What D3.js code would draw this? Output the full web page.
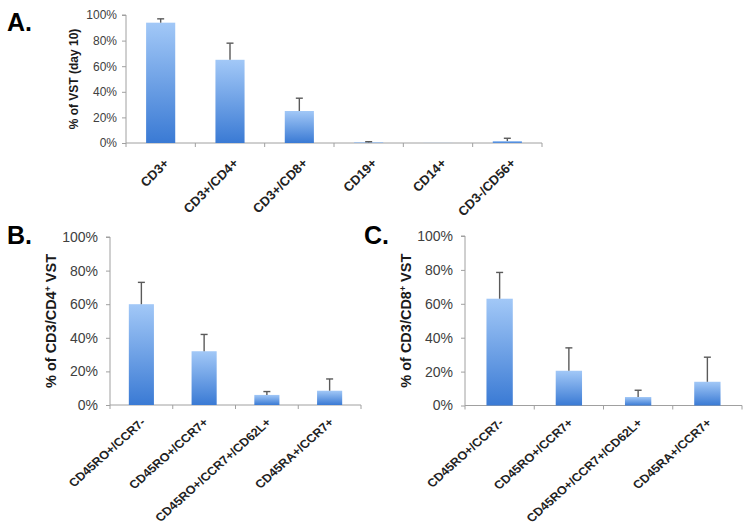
<!DOCTYPE html>
<html><head><meta charset="utf-8">
<script src="https://cdn.jsdelivr.net/npm/d3@7"></script>
<style>
html,body{margin:0;padding:0;background:#fff;}
svg{display:block;font-family:"Liberation Sans",Arial,sans-serif;}
</style></head>
<body><svg id="c" width="750" height="530"></svg>
<script>
// ---- data ----
const catsA = ["CD3+","CD3+/CD4+","CD3+/CD8+","CD19+","CD14+","CD3-/CD56+"];
const valsA = [94, 65, 25, 0.5, 0.1, 1.5];
const errA  = [3, 13, 10, 0.5, 0, 2.2];

const catsB = ["CD45RO+/CCR7-","CD45RO+/CCR7+","CD45RO+/CCR7+/CD62L+","CD45RA+/CCR7+"];
const valsB = [60, 32, 6, 8.5];
const errB  = [13, 10, 2, 7];

const catsC = ["CD45RO+/CCR7-","CD45RO+/CCR7+","CD45RO+/CCR7+/CD62L+","CD45RA+/CCR7+"];
const valsC = [63, 20.5, 5, 14];
const errC  = [15.5, 13.5, 4, 14.5];

const yTicks = [0, 20, 40, 60, 80, 100];
const yTickLabels = ["0%","20%","40%","60%","80%","100%"];

// ---- drawing ----
const svg = d3.select("#c");
const defs = svg.append("defs");
const grad = defs.append("linearGradient").attr("id","barGrad")
  .attr("x1",0).attr("y1",0).attr("x2",0).attr("y2",1);
grad.append("stop").attr("offset","0%").attr("stop-color","#a2c8f7");
grad.append("stop").attr("offset","100%").attr("stop-color","#3a7ad4");

function panel(o){
  const g = svg.append("g");
  const x = d3.scaleBand().domain(o.cats).range([o.x0, o.x1]).paddingInner(0).paddingOuter(0);
  const y = d3.scaleLinear().domain([0,100]).range([o.yb, o.yt]);
  const axisCol = "#a0a0a0";

  // y axis
  const ya = g.append("g").attr("transform",`translate(${o.x0},0)`)
    .call(d3.axisLeft(y).tickValues(yTicks).tickFormat((d,i)=>yTickLabels[i]).tickSize(4).tickPadding(o.yPad));
  ya.select(".domain").attr("stroke",axisCol).attr("d",`M-4,${y(100)}H0V${y(0)}`);
  ya.selectAll(".tick line").attr("stroke",axisCol);
  ya.selectAll(".tick text").attr("fill","#404040").style("font-family","Liberation Sans, Arial, sans-serif")
    .style("font-size",o.yFont+"px");

  // x axis line with boundary ticks
  const bounds = o.cats.map(c=>x(c)).concat([o.x1]);
  g.append("line").attr("x1",o.x0).attr("x2",o.x1).attr("y1",o.yb).attr("y2",o.yb)
    .attr("stroke",axisCol);
  g.selectAll(".bt").data(bounds).join("line")
    .attr("x1",d=>d).attr("x2",d=>d).attr("y1",o.yb).attr("y2",o.yb+4).attr("stroke",axisCol);

  const bw = x.bandwidth()*o.barFrac;
  // bars
  g.selectAll(".bar").data(o.cats).join("rect")
    .attr("x",(d)=>x(d)+x.bandwidth()/2-bw/2)
    .attr("width",bw)
    .attr("y",(d,i)=>y(o.vals[i]))
    .attr("height",(d,i)=>y(0)-y(o.vals[i]))
    .attr("fill","url(#barGrad)");
  // error bars (upper only)
  const eb = o.cats.map((c,i)=>({c, v:o.vals[i], e:o.errs[i]})).filter(d=>d.e>0);
  g.selectAll(".ev").data(eb).join("line")
    .attr("x1",d=>x(d.c)+x.bandwidth()/2).attr("x2",d=>x(d.c)+x.bandwidth()/2)
    .attr("y1",d=>y(d.v)).attr("y2",d=>y(d.v+d.e))
    .attr("stroke","#5a5a5a").attr("stroke-width",1.4);
  g.selectAll(".ec").data(eb).join("line")
    .attr("x1",d=>x(d.c)+x.bandwidth()/2-3.5).attr("x2",d=>x(d.c)+x.bandwidth()/2+3.5)
    .attr("y1",d=>y(d.v+d.e)).attr("y2",d=>y(d.v+d.e))
    .attr("stroke","#5a5a5a").attr("stroke-width",1.4);

  // x labels rotated
  g.selectAll(".xl").data(o.cats).join("text")
    .attr("transform",d=>`translate(${x(d)+x.bandwidth()/2+o.lblDx},${o.yb+o.lblDy}) scale(${o.lblSx},1) rotate(-45)`)
    .attr("text-anchor","end")
    .style("font-size",o.xFont+"px").style("font-weight","bold").attr("fill","#222")
    .text(d=>d);

  // y title
  const t = g.append("text")
    .attr("transform",`translate(${o.titleX},${(o.yb+o.yt)/2}) rotate(-90)`)
    .attr("text-anchor","middle").style("font-size",o.titleFont+"px").style("font-weight","bold")
    .attr("fill","#1a1a1a");
  o.title.forEach(p=>{
    const ts = t.append("tspan").text(p.t);
    if(p.sup){ ts.attr("baseline-shift","super").style("font-size",(o.titleFont*0.6)+"px"); }
  });

  // panel letter
  svg.append("text").attr("x",o.letterX).attr("y",o.letterY)
    .style("font-size","25px").style("font-weight","bold").attr("fill","#000").text(o.letter);
}

panel({cats:catsA, vals:valsA, errs:errA, x0:126, x1:542, yb:143, yt:15, barFrac:0.42,
  yPad:5, yFont:12, xFont:13, lblSx:1, lblDx:9, lblDy:21, titleX:78, titleFont:12,
  title:[{t:"% of VST (day 10)"}], letter:"A.", letterX:7, letterY:31});
panel({cats:catsB, vals:valsB, errs:errB, x0:110, x1:361, yb:405, yt:237, barFrac:0.4,
  yPad:8, yFont:14, xFont:11.5, lblSx:1.12, lblDx:5, lblDy:18, titleX:56, titleFont:14.5,
  title:[{t:"% of  CD3/CD4"},{t:"+",sup:true},{t:" VST"}], letter:"B.", letterX:7, letterY:244});
panel({cats:catsC, vals:valsC, errs:errC, x0:465, x1:742, yb:405.5, yt:236, barFrac:0.38,
  yPad:8, yFont:14, xFont:11.5, lblSx:1.12, lblDx:5, lblDy:18, titleX:411, titleFont:14.5,
  title:[{t:"% of CD3/CD8"},{t:"+",sup:true},{t:" VST"}], letter:"C.", letterX:364, letterY:244});
</script></body></html>
